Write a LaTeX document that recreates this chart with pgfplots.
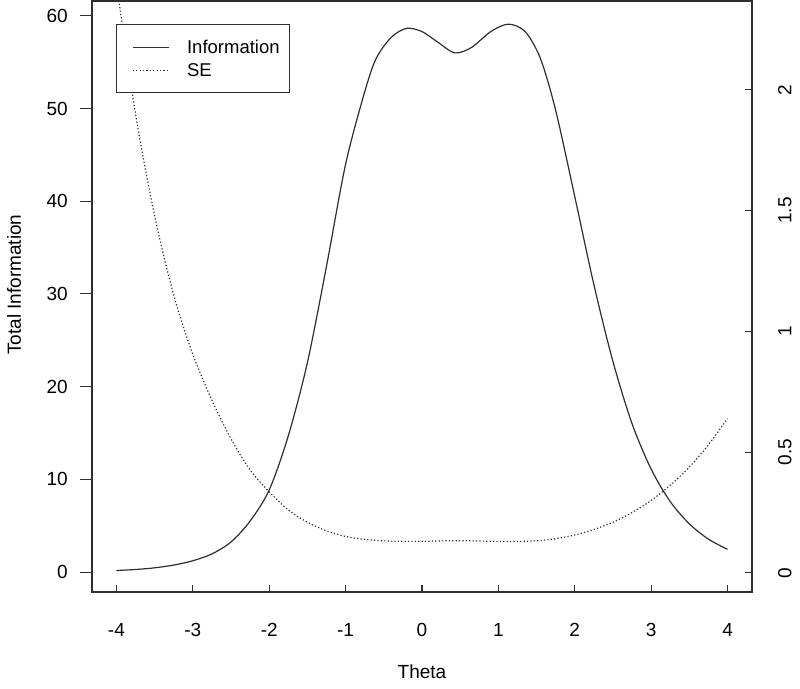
\documentclass[border=0pt]{standalone}
\usepackage{fontspec}
\setmainfont{Liberation Sans}
\usepackage{pgfplots}
\pgfplotsset{compat=1.18}

% theta vs total information
\pgfplotstableread{
theta info
-4.00 0.168
-3.75 0.277
-3.50 0.457
-3.25 0.756
-3.00 1.221
-2.75 1.956
-2.50 3.25
-2.25 5.5
-2.00 8.86
-1.75 14.7
-1.50 22.6
-1.25 33.0
-1.00 44.0
-0.75 51.8
-0.60 55.4
-0.40 57.7
-0.20 58.65
0.00 58.3
0.20 57.2
0.43 56.0
0.65 56.6
0.90 58.3
1.13 59.1
1.35 58.3
1.55 55.4
1.75 49.8
2.00 40.5
2.25 31.0
2.50 22.7
2.75 16.0
3.00 11.1
3.25 7.6
3.50 5.2
3.75 3.55
4.00 2.45
}\infotab

% theta vs standard error (right axis)
\pgfplotstableread{
theta se
-4.00 2.440
-3.75 1.900
-3.50 1.479
-3.25 1.150
-3.00 0.905
-2.75 0.715
-2.50 0.555
-2.25 0.426
-2.00 0.336
-1.75 0.261
-1.50 0.210
-1.25 0.1741
-1.00 0.1508
-0.75 0.1389
-0.60 0.1344
-0.40 0.1316
-0.20 0.1306
0.00 0.1310
0.20 0.1322
0.43 0.1336
0.65 0.1329
0.90 0.1310
1.13 0.1301
1.35 0.1310
1.55 0.1344
1.75 0.1417
2.00 0.1571
2.25 0.1796
2.50 0.2099
2.75 0.2500
3.00 0.3001
3.25 0.3627
3.50 0.4385
3.75 0.5307
4.00 0.6389
}\setab

\colorlet{ink}{black!82}

\begin{document}
\begin{tikzpicture}[x=1pt,y=1pt,font=\fontsize{19}{22}\selectfont]
\path[use as bounding box] (-92,-96) rectangle (708,592);

\begin{axis}[
  at={(0,0)}, anchor=south west, scale only axis,
  width=660pt, height=591pt,
  xmin=-4.32, xmax=4.32, ymin=-2.15, ymax=61.6,
  axis line style={ink, line width=1.1pt},
  xtick=\empty,
  ytick={0,10,...,60}, ytick pos=left, ytick align=outside,
  major tick length=12pt,
  tick style={ink, line width=1.1pt},
  /pgf/number format/assume math mode=true,
  yticklabel style={anchor=east, inner sep=0pt},
  yticklabel shift=12pt,
  ylabel={Total Information},
  every axis y label/.style={at={(axis description cs:0,0.52)}, xshift=-78pt,
    rotate=90, anchor=center, inner sep=0pt},
]
\addplot[ink, line width=1.2pt, smooth, tension=0.5] table[x=theta, y=info] {\infotab};
\end{axis}

\begin{axis}[
  at={(0,0)}, anchor=south west, scale only axis,
  width=660pt, height=591pt,
  xmin=-4.32, xmax=4.32, ymin=-0.079, ymax=2.368,
  axis x line*=bottom, axis y line*=right,
  axis line style={-, ink, line width=1.1pt},
  xtick={-4,-3,...,4}, ytick={0,0.5,1,1.5,2},
  yticklabels={0,0.5,1,1.5,2},
  tick align=inside, major tick length=7pt,
  tick style={ink, line width=1.1pt},
  /pgf/number format/assume math mode=true,
  yticklabel pos=right,
  yticklabel style={rotate=90, anchor=north, inner sep=0pt},
  yticklabel shift=26pt,
  xticklabel style={anchor=north, inner sep=0pt},
  xticklabel shift=31pt,
  xlabel={Theta},
  every axis x label/.style={at={(axis description cs:0.5,0)},
    anchor=center, yshift=-80pt, inner sep=0pt},
  legend image code/.code={\path (0pt,0pt); \draw[#1] (5.7pt,0pt) -- (42.3pt,0pt);},
  legend cell align=left,
  legend style={at={(0.0364,0.9611)}, anchor=north west,
    draw=ink, line width=1.1pt, fill=white,
    font=\fontsize{18.5}{21}\selectfont,
    inner xsep=10pt, inner ysep=16pt, row sep=10pt, column sep=17pt,
    nodes={inner sep=0pt, text depth=0pt}},
]
\addlegendimage{ink, line width=1.2pt}
\addlegendentry{Information}
\addplot[ink, line width=1.2pt, smooth, tension=0.5, dash pattern=on 1.2pt off 2.2pt]
  table[x=theta, y=se] {\setab};
\addlegendentry{SE}
\end{axis}
\end{tikzpicture}
\end{document}
